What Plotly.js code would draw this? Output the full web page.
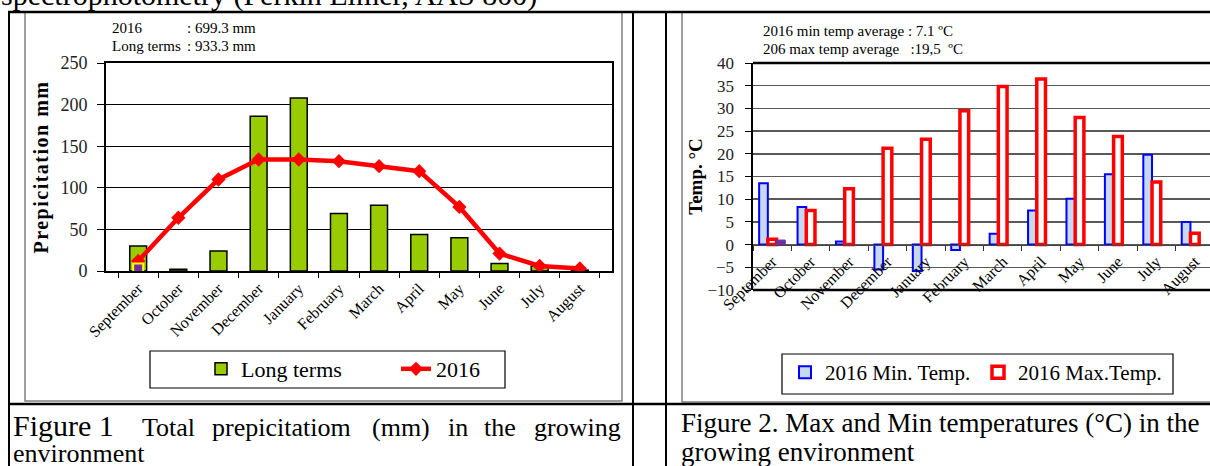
<!DOCTYPE html>
<html><head><meta charset="utf-8">
<script src="https://cdn.plot.ly/plotly-3.0.1.min.js"></script>
<style>
html,body{margin:0;padding:0;overflow:hidden;background:#fff;}
#chart{width:1225px;height:466px;}
.ytitle{letter-spacing:1.5px;}
</style></head><body><div id="chart"></div>
<script>
// ---- data ----
const months = ['September','October','November','December','January','February','March','April','May','June','July','August'];
const longTerms = [30,2,24,186,208,69,79,44,40,9,6,1];
const precip2016 = [12,64,110,134,134,132,126,120,77,21,6,3];
const strayMonth = ['September'];
const strayValue = [3];
const minTemp = [13.5,8.3,0.7,-5.5,-5.8,-1.2,2.4,7.5,10.1,15.5,19.8,5.0];
const maxTemp = [1.2,7.5,12.3,21.2,23.2,29.5,34.8,36.5,28.0,23.8,13.8,2.5];
const extraMonth = ['September'];
const extraValue = [1.0];

// ---- geometry helpers (pixel -> paper) ----
const W = 1225, H = 466;
const X = p => p / W;
const Y = p => 1 - p / H;
const SERIF = 'Liberation Serif, Times New Roman, serif';

const yR = [-10, 40];
const y2dom = [Y(290), Y(63)];
const zeroPos = y2dom[0] + (0 - yR[0]) / (yR[1] - yR[0]) * (y2dom[1] - y2dom[0]);

const traces = [
  {type:'bar', x:months, y:longTerms, name:'Long terms', xaxis:'x', yaxis:'y', legend:'legend',
   width:0.42, marker:{color:'#99cc00', line:{color:'#000', width:1.5}}},
  {type:'scatter', mode:'lines+markers', x:months, y:precip2016, name:'2016', xaxis:'x', yaxis:'y', legend:'legend',
   line:{color:'#ff0000', width:4.5}, marker:{symbol:'diamond', size:11, color:'#ff0000'}},
  {type:'scatter', mode:'markers', x:strayMonth, y:strayValue, showlegend:false, xaxis:'x', yaxis:'y',
   marker:{symbol:'square', size:10, color:'#7030a0', line:{color:'#ffff00', width:2}}},
  {type:'bar', x:months, y:minTemp, name:'2016 Min. Temp.', xaxis:'x2', yaxis:'y2', legend:'legend2',
   marker:{color:'#c6d9f1', line:{color:'#0000ff', width:2}}},
  {type:'bar', x:months, y:maxTemp, name:'2016 Max.Temp.', xaxis:'x2', yaxis:'y2', legend:'legend2',
   marker:{color:'#ffffff', line:{color:'#ff0000', width:3.5}}},
  {type:'bar', x:extraMonth, y:extraValue, name:'', showlegend:false, xaxis:'x2', yaxis:'y2',
   marker:{color:'#7030a0', line:{color:'#7030a0', width:1}}}
];

function line(x0,y0,x1,y1,color,width){
  return {type:'line', xref:'paper', yref:'paper', x0:X(x0), y0:Y(y0), x1:X(x1), y1:Y(y1), line:{color:color, width:width}, layer:'above'};
}
function rect(x0,y0,x1,y1,color,width){
  return {type:'rect', xref:'paper', yref:'paper', x0:X(x0), y0:Y(y1), x1:X(x1), y1:Y(y0), line:{color:color, width:width}, layer:'above'};
}
const shapes = [
  // chart frames
  rect(25,12,622,401,'#808080',1.5),
  rect(682,12,1240,402,'#808080',1.5),
  // legend boxes
  rect(150,351,505,388,'#000',1.2),
  rect(782,354,1173,394,'#000',1.2),
  // table lines
  line(8,12,1225,12,'#000',2.5),
  line(9,12,9,466,'#000',2),
  line(633,12,633,466,'#000',2),
  line(666,12,666,466,'#000',2),
  line(8,404,1225,404,'#000',2.5),
  // right plot top/bottom borders
  line(753,63,1225,63,'#000',2.5),
  line(753,290,1225,290,'#000',2.5)
];

function ann(text,x,y,size,opts){
  return Object.assign({text:text, xref:'paper', yref:'paper', x:X(x), y:Y(y), xanchor:'left', yanchor:'middle',
    showarrow:false, font:{family:SERIF, size:size, color:'#000'}}, opts||{});
}
const annotations = [
  ann('spectrophotometry (Perkin Elmer, AAS 800)', -1, -5, 30),
  ann('2016', 110, 28, 15), ann(': 699.3 mm', 185, 28, 15),
  ann('Long terms', 110, 46, 15), ann(': 933.3 mm', 185, 46, 15),
  ann('2016 min temp average : 7.1 ºC', 761, 31, 15),
  ann('206 max temp average&nbsp;&nbsp;&nbsp;:19,5&nbsp;&nbsp;ºC', 761, 49, 15),
  // caption 1 (justified words)
  ann('Figure 1', 11, 425, 30),
  ann('Total', 140, 427, 26), ann('prepicitatiom', 210, 427, 26), ann('(mm)', 370, 427, 26),
  ann('in', 446, 427, 26), ann('the', 482, 427, 26), ann('growing', 532, 427, 26),
  ann('environment', 11, 453, 26),
  // caption 2
  ann('Figure 2. Max and Min temperatures (°C) in the', 679, 423, 27),
  ann('growing environment', 679, 452, 27)
];

const tickFont = {family:SERIF, size:16, color:'#000'};
const layout = {
  width:W, height:H, margin:{l:0,r:0,t:0,b:0}, paper_bgcolor:'#fff', plot_bgcolor:'rgba(0,0,0,0)',
  barmode:'group', bargap:0.32, bargroupgap:0,
  showlegend:true,
  xaxis:{domain:[X(106),X(612)], anchor:'y', type:'category', tickangle:-45, ticks:'outside', tickson:'boundaries',
    ticklen:5, tickcolor:'#000', showline:true, linecolor:'#000', linewidth:2, mirror:true, showgrid:false,
    tickfont:tickFont},
  yaxis:{domain:[Y(271),Y(63)], anchor:'x', range:[0,250], dtick:50, ticks:'outside', ticklen:7, tickcolor:'#000',
    ticklabelstandoff:6,
    showgrid:true, gridcolor:'#000', gridwidth:1, zeroline:false, showline:true, linecolor:'#000', linewidth:2, mirror:true,
    tickfont:{family:SERIF, size:18, color:'#222'},
    title:{text:'Prepicitation mm', font:{family:SERIF, size:20, color:'#000', weight:'bold'}, standoff:6}},
  xaxis2:{domain:[X(753),X(1214)], anchor:'free', position:zeroPos, type:'category', tickangle:-45, ticks:'outside',
    tickson:'boundaries', ticklen:5, tickcolor:'#333', showline:true, linecolor:'#444', linewidth:1.5, showgrid:false,
    tickfont:tickFont},
  yaxis2:{domain:y2dom, anchor:'x2', range:yR, dtick:5, ticks:'outside', ticklen:6, tickcolor:'#000',
    ticklabelstandoff:7,
    showgrid:true, gridcolor:'#595959', gridwidth:1.5, zeroline:false, showline:true, linecolor:'#000', linewidth:2.5,
    tickfont:{family:SERIF, size:17, color:'#222'},
    title:{text:'Temp. °C', font:{family:SERIF, size:19, color:'#000', weight:'bold'}, standoff:0}},
  legend:{orientation:'h', x:X(201), xanchor:'left', y:Y(348), yanchor:'top', borderwidth:0,
    bgcolor:'rgba(0,0,0,0)', font:{family:SERIF, size:22, color:'#000'}, entrywidth:150},
  legend2:{orientation:'h', x:X(785), xanchor:'left', y:Y(352), yanchor:'top', borderwidth:0,
    bgcolor:'rgba(0,0,0,0)', font:{family:SERIF, size:21, color:'#000'}, entrywidth:148},
  shapes:shapes, annotations:annotations
};

Plotly.newPlot('chart', traces, layout, {staticPlot:true, displayModeBar:false});
</script></body></html>
